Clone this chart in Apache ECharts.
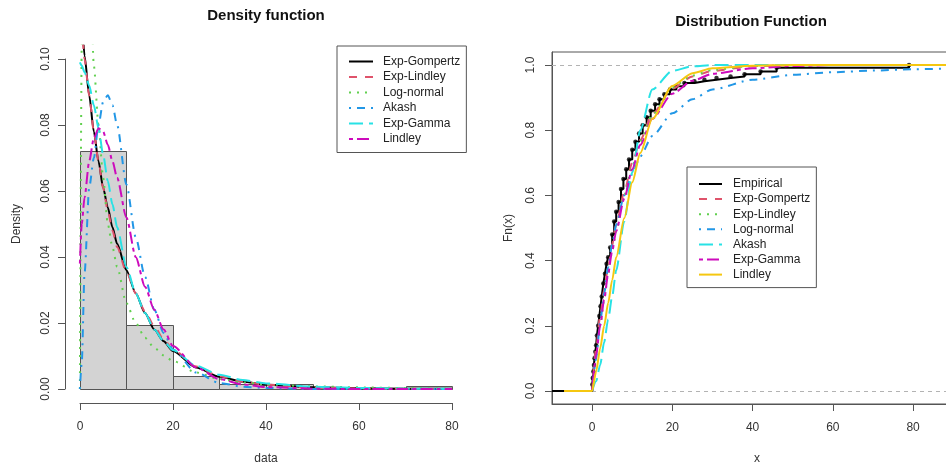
<!DOCTYPE html>
<html><head><meta charset="utf-8">
<script src="https://cdn.jsdelivr.net/npm/echarts@6/dist/echarts.min.js"></script>
<style>html,body{margin:0;padding:0;background:#fff}#c{width:946px;height:463px}</style>
</head><body><div id="c"></div>
<script>
// ---------- Left panel: histogram + fitted densities ----------
const histBreaks = [0, 10, 20, 30, 40, 50, 60, 70, 80];
const histDensity = [0.072, 0.0195, 0.0038, 0.0016, 0.0016, 0, 0, 0.0008];

const densX        = [0, 0.4, 1, 2, 3, 4, 5, 6, 7, 8, 10, 12, 14, 16, 18, 20, 25, 30, 35, 40, 50, 60, 70, 80];
const dExpGompertz = [0.125, 0.112, 0.101, 0.089, 0.078, 0.069, 0.061, 0.055, 0.049, 0.044, 0.036, 0.029, 0.023, 0.018, 0.0145, 0.0115, 0.0065, 0.0037, 0.0022, 0.0013, 0.0005, 0.0002, 0.0001, 0.00004];
const dExpLindley  = [0.12, 0.109, 0.1, 0.089, 0.078, 0.069, 0.061, 0.054, 0.048, 0.043, 0.0355, 0.029, 0.0235, 0.019, 0.015, 0.012, 0.0068, 0.0039, 0.0022, 0.0013, 0.0004, 0.00015, 0.00005, 0];
const dLogNormal   = [0, 0.104, 0.17, 0.14, 0.098, 0.08, 0.064, 0.05, 0.043, 0.037, 0.026, 0.02, 0.0155, 0.0125, 0.0102, 0.0085, 0.005, 0.003, 0.002, 0.0014, 0.0008, 0.0005, 0.0003, 0.0002];
const dAkash       = [0, 0.008, 0.035, 0.061, 0.07, 0.08, 0.087, 0.089, 0.086, 0.08, 0.062, 0.046, 0.034, 0.024, 0.017, 0.012, 0.005, 0.0018, 0.0007, 0.0003, 0, 0, 0, 0];
const dExpGamma    = [0.099, 0.098, 0.096, 0.092, 0.086, 0.079, 0.071, 0.063, 0.056, 0.049, 0.037, 0.029, 0.023, 0.018, 0.0145, 0.0118, 0.007, 0.0043, 0.0027, 0.0017, 0.0007, 0.0003, 0.0001, 0.00005];
const dLindley     = [0.038, 0.05, 0.058, 0.069, 0.076, 0.079, 0.078, 0.074, 0.069, 0.064, 0.052, 0.04, 0.031, 0.024, 0.018, 0.013, 0.0065, 0.003, 0.0014, 0.0006, 0.0001, 0, 0, 0];

const leftXTicks = [0, 20, 40, 60, 80];
const leftYTicks = [0, 0.02, 0.04, 0.06, 0.08, 0.10];

// ---------- Right panel: empirical + fitted CDFs ----------
const ecdfX = [-10, 0.05, 0.15, 0.3, 0.45, 0.6, 0.8, 1.0, 1.2, 1.5, 1.8, 2.1, 2.4, 2.8, 3.2, 3.6, 4.0, 4.5, 5.0, 5.5, 6.0, 6.6, 7.2, 7.8, 8.5, 9.2, 10, 10.8, 11.7, 12.6, 13.6, 14.6, 15.7, 16.8, 18, 19.4, 21, 23, 25.5, 28, 31, 34.5, 38, 42, 46, 79, 95];
const ecdfF = [0, 0.02, 0.04, 0.06, 0.08, 0.1, 0.12, 0.14, 0.17, 0.2, 0.23, 0.26, 0.29, 0.33, 0.36, 0.39, 0.41, 0.44, 0.48, 0.52, 0.55, 0.58, 0.62, 0.65, 0.68, 0.71, 0.74, 0.765, 0.79, 0.815, 0.84, 0.86, 0.88, 0.895, 0.91, 0.925, 0.935, 0.945, 0.95, 0.955, 0.96, 0.965, 0.972, 0.98, 0.992, 1.0, 1.0];

const cdfX         = [-7, 0, 1, 2, 3, 4, 5, 6, 8, 10, 12, 15, 20, 25, 30, 40, 50, 60, 70, 80, 90];
const fExpGompertz = [null, 0, 0.13, 0.23, 0.31, 0.38, 0.45, 0.51, 0.61, 0.7, 0.77, 0.85, 0.928, 0.965, 0.982, 0.996, 0.999, 1, 1, 1, 1];
const fExpLindley  = [null, 0, 0.11, 0.2, 0.28, 0.36, 0.43, 0.49, 0.6, 0.69, 0.765, 0.848, 0.932, 0.968, 0.985, 0.997, 1, 1, 1, 1, 1];
const fLogNormal   = [null, 0, 0.1, 0.21, 0.3, 0.38, 0.45, 0.51, 0.6, 0.665, 0.72, 0.782, 0.852, 0.895, 0.925, 0.955, 0.97, 0.978, 0.983, 0.987, 0.99];
const fAkash       = [null, 0, 0.03, 0.08, 0.15, 0.22, 0.29, 0.37, 0.52, 0.67, 0.8, 0.925, 0.982, 0.996, 1, 1, 1, 1, 1, 1, 1];
const fExpGamma    = [null, 0, 0.11, 0.2, 0.28, 0.36, 0.43, 0.49, 0.59, 0.68, 0.755, 0.835, 0.912, 0.952, 0.973, 0.99, 0.997, 1, 1, 1, 1];
const fLindley     = [0, 0, 0.06, 0.13, 0.2, 0.27, 0.34, 0.41, 0.53, 0.64, 0.73, 0.835, 0.936, 0.975, 0.99, 0.998, 1, 1, 1, 1, 1];

const rightXTicks = [0, 20, 40, 60, 80];
const rightYTicks = [0, 0.2, 0.4, 0.6, 0.8, 1.0];

// ---------- styles ----------
const FONT = '"Liberation Sans", Arial, Helvetica, sans-serif';
const AX = '#555';
const TXT = '#333';
const LTY = {
  solid: 'solid',
  dashed: [8, 8],
  dotted: [2, 6],
  dotdash: [2, 6, 8, 6],
  longdash: [14, 6],
  twodash: [4, 4, 12, 4]
};
const COL = {black:'#000000', red:'#DF536B', green:'#61D04F', blue:'#2297E6', cyan:'#28E2E5', magenta:'#CD0BBC', yellow:'#F5C710'};

function pairs(xs, ys) { return xs.map((x, i) => [x, ys[i]]); }
function curve(name, xs, ys, color, type, xi, yi) {
  return {
    name, type: 'line', xAxisIndex: xi, yAxisIndex: yi,
    data: pairs(xs, ys), smooth: 0.25, smoothMonotone: 'x',
    symbol: 'none', showSymbol: false, clip: true, connectNulls: false,
    lineStyle: {color, width: 2, type, cap: 'butt'}, itemStyle: {color},
    emphasis: {disabled: true}
  };
}

const histData = histDensity.map((d, i) => [histBreaks[i], histBreaks[i + 1], d]);

const leftNames = ['L|Exp-Gompertz', 'L|Exp-Lindley', 'L|Log-normal', 'L|Akash', 'L|Exp-Gamma', 'L|Lindley'];
const rightNames = ['R|Empirical', 'R|Exp-Gompertz', 'R|Exp-Lindley', 'R|Log-normal', 'R|Akash', 'R|Exp-Gamma', 'R|Lindley'];

const axisLabelStyle = {color: TXT, fontSize: 12, fontFamily: FONT};
const hiddenSymbol = {color: 'rgba(0,0,0,0)', borderColor: 'rgba(0,0,0,0)', borderWidth: 0, opacity: 0};

const option = {
  animation: false,
  backgroundColor: '#fff',
  textStyle: {fontFamily: FONT},
  graphic: [
    {type: 'text', x: 266, y: 16, style: {text: 'Density function', font: 'bold 15px ' + FONT, fill: '#111', align: 'center', verticalAlign: 'middle'}},
    {type: 'text', x: 751, y: 22, style: {text: 'Distribution Function', font: 'bold 15px ' + FONT, fill: '#111', align: 'center', verticalAlign: 'middle'}}
  ],
  grid: [
    {left: 65, top: 45.8, width: 402, height: 356.4, containLabel: false, outerBoundsMode: 'none'},
    {left: 80, top: 59, width: 372, height: 330, containLabel: false, outerBoundsMode: 'none'},
    {left: 552, top: 52, width: 410, height: 352, containLabel: false, outerBoundsMode: 'none',
     show: true, borderColor: AX, borderWidth: 1, backgroundColor: 'transparent'}
  ],
  xAxis: [
    {gridIndex: 0, type: 'value', min: -3.2, max: 83.2, show: false},
    {gridIndex: 1, type: 'value', min: 0, max: 80, interval: 20, offset: 14,
     axisLine: {onZero: false, lineStyle: {color: AX, width: 1}}, axisTick: {length: 7, lineStyle: {color: AX}},
     axisLabel: Object.assign({margin: 18}, axisLabelStyle), splitLine: {show: false},
     name: 'data', nameLocation: 'middle', nameGap: 50, nameTextStyle: {color: TXT, fontSize: 12, fontFamily: FONT}},
    {gridIndex: 2, type: 'value', min: -10, max: 92.2,
     axisLine: {onZero: false, lineStyle: {color: AX, width: 1}},
     axisTick: {length: 7, lineStyle: {color: AX}, customValues: rightXTicks},
     axisLabel: Object.assign({margin: 18, customValues: rightXTicks}, axisLabelStyle), splitLine: {show: false},
     name: 'x', nameLocation: 'middle', nameGap: 49, nameTextStyle: {color: TXT, fontSize: 12, fontFamily: FONT}}
  ],
  yAxis: [
    {gridIndex: 0, type: 'value', min: -0.004, max: 0.104, show: false},
    {gridIndex: 1, type: 'value', min: 0, max: 0.1, interval: 0.02, offset: 15,
     axisLine: {show: true, onZero: false, lineStyle: {color: AX, width: 1}}, axisTick: {show: true, length: 7, lineStyle: {color: AX}},
     axisLabel: Object.assign({margin: 13, rotate: 90, formatter: v => v.toFixed(2)}, axisLabelStyle), splitLine: {show: false},
     name: 'Density', nameLocation: 'middle', nameRotate: 90, nameGap: 42, nameTextStyle: {color: TXT, fontSize: 12, fontFamily: FONT}},
    {gridIndex: 2, type: 'value', min: -0.04, max: 1.04,
     axisLine: {show: true, onZero: false, lineStyle: {color: AX, width: 1}},
     axisTick: {show: true, length: 7, lineStyle: {color: AX}, customValues: rightYTicks},
     axisLabel: Object.assign({margin: 15, rotate: 90, customValues: rightYTicks, formatter: v => v.toFixed(1)}, axisLabelStyle), splitLine: {show: false},
     name: 'Fn(x)', nameLocation: 'middle', nameRotate: 90, nameGap: 37, nameTextStyle: {color: TXT, fontSize: 12, fontFamily: FONT}}
  ],
  legend: [
    {data: leftNames, orient: 'vertical', left: 337, top: 46, padding: [9.5, 6, 7.5, 11],
     itemWidth: 24, itemHeight: 12, itemGap: 3.5, borderColor: AX, borderWidth: 1, borderRadius: 0,
     selectedMode: false, formatter: n => n.split('|')[1], itemStyle: hiddenSymbol,
     textStyle: {color: '#222', fontSize: 12, fontFamily: FONT, lineHeight: 12, padding: [0, 0, 0, 5]}},
    {data: rightNames, orient: 'vertical', left: 687, top: 167, padding: [11, 6, 7, 11],
     itemWidth: 23, itemHeight: 12, itemGap: 3.1, borderColor: AX, borderWidth: 1, borderRadius: 0,
     selectedMode: false, formatter: n => n.split('|')[1], itemStyle: hiddenSymbol,
     textStyle: {color: '#222', fontSize: 12, fontFamily: FONT, lineHeight: 12, padding: [0, 0, 0, 6]}}
  ],
  series: [
    {
      name: 'hist', type: 'custom', xAxisIndex: 0, yAxisIndex: 0, data: histData,
      encode: {x: [0, 1], y: 2}, clip: true, silent: true,
      renderItem: function (params, api) {
        const p0 = api.coord([api.value(0), api.value(2)]);
        const p1 = api.coord([api.value(1), 0]);
        return {type: 'rect', shape: {x: Math.round(p0[0]) + 0.5, y: Math.round(p0[1]) + 0.5, width: Math.round(p1[0]) - Math.round(p0[0]), height: Math.round(p1[1]) - Math.round(p0[1])},
                style: {fill: '#D3D3D3', stroke: '#555', lineWidth: 1}};
      }
    },
    curve(leftNames[0], densX, dExpGompertz, COL.black, LTY.solid, 0, 0),
    curve(leftNames[1], densX, dExpLindley, COL.red, LTY.dashed, 0, 0),
    curve(leftNames[2], densX, dLogNormal, COL.green, LTY.dotted, 0, 0),
    curve(leftNames[3], densX, dAkash, COL.blue, LTY.dotdash, 0, 0),
    curve(leftNames[4], densX, dExpGamma, COL.cyan, LTY.longdash, 0, 0),
    curve(leftNames[5], densX, dLindley, COL.magenta, LTY.twodash, 0, 0),

    {
      name: rightNames[0], type: 'line', xAxisIndex: 2, yAxisIndex: 2, step: 'end',
      data: pairs(ecdfX, ecdfF), symbol: 'none', showSymbol: false, clip: true,
      lineStyle: {color: '#000', width: 2}, itemStyle: {color: '#000'}, emphasis: {disabled: true},
      markLine: {silent: true, symbol: 'none', label: {show: false}, z: 1,
        lineStyle: {color: '#B3B3B3', width: 1, type: [4, 4]},
        data: [{yAxis: 0}, {yAxis: 1}]}
    },
    {
      name: 'ecdf-points', type: 'scatter', xAxisIndex: 2, yAxisIndex: 2,
      data: pairs(ecdfX.slice(1, -1), ecdfF.slice(1, -1)), symbolSize: 4.5,
      itemStyle: {color: '#000'}, silent: true
    },
    curve(rightNames[1], cdfX, fExpGompertz, COL.red, LTY.dashed, 2, 2),
    curve(rightNames[2], cdfX, fExpLindley, COL.green, LTY.dotted, 2, 2),
    curve(rightNames[3], cdfX, fLogNormal, COL.blue, LTY.dotdash, 2, 2),
    curve(rightNames[4], cdfX, fAkash, COL.cyan, LTY.longdash, 2, 2),
    curve(rightNames[5], cdfX, fExpGamma, COL.magenta, LTY.twodash, 2, 2),
    curve(rightNames[6], cdfX, fLindley, COL.yellow, LTY.solid, 2, 2)
  ]
};

const chart = echarts.init(document.getElementById('c'), null, {renderer: 'canvas'});
chart.setOption(option);
</script>
</body></html>
